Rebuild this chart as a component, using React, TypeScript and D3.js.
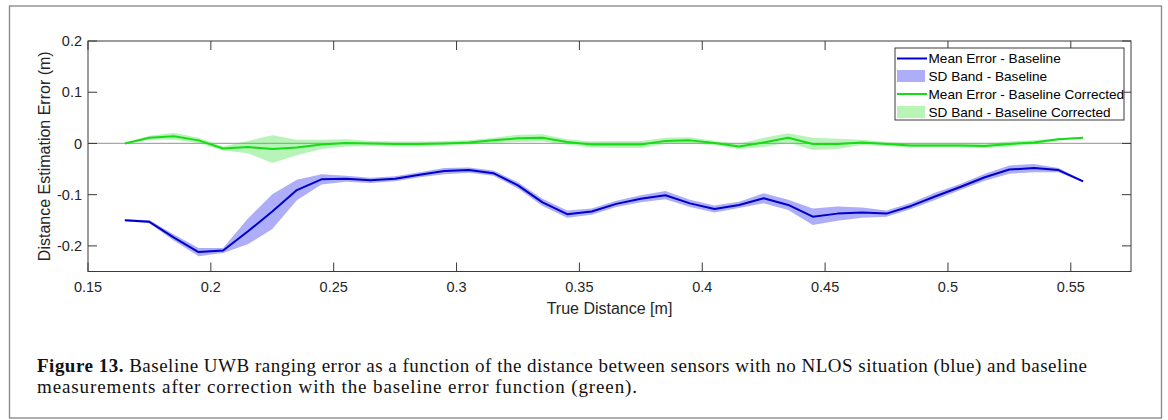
import React from "react";
import * as d3 from "d3";

const distances = [
  0.165, 0.175, 0.185, 0.195, 0.205, 0.215, 0.225, 0.235, 0.245, 0.255,
  0.265, 0.275, 0.285, 0.295, 0.305, 0.315, 0.325, 0.335, 0.345, 0.355,
  0.365, 0.375, 0.385, 0.395, 0.405, 0.415, 0.425, 0.435, 0.445, 0.455,
  0.465, 0.475, 0.485, 0.495, 0.505, 0.515, 0.525, 0.535, 0.545, 0.555,
];

const baselineMean = [
  -0.150, -0.153, -0.184, -0.212, -0.209, -0.172, -0.133, -0.091, -0.070, -0.069,
  -0.072, -0.069, -0.061, -0.054, -0.052, -0.058, -0.082, -0.115, -0.138, -0.133,
  -0.118, -0.108, -0.101, -0.117, -0.128, -0.120, -0.107, -0.120, -0.143, -0.137,
  -0.135, -0.137, -0.122, -0.103, -0.085, -0.066, -0.051, -0.048, -0.052, -0.074,
];

const baselineSD = [
  0.002, 0.003, 0.006, 0.008, 0.005, 0.025, 0.034, 0.020, 0.010, 0.006,
  0.005, 0.005, 0.005, 0.006, 0.005, 0.005, 0.006, 0.007, 0.007, 0.006,
  0.006, 0.007, 0.008, 0.007, 0.007, 0.006, 0.010, 0.010, 0.016, 0.014,
  0.010, 0.006, 0.006, 0.007, 0.006, 0.007, 0.008, 0.008, 0.004, 0.002,
];

const correctedMean = [
  0.000, 0.011, 0.014, 0.006, -0.010, -0.007, -0.011, -0.008, -0.002, 0.001,
  0.000, -0.001, -0.001, 0.000, 0.002, 0.006, 0.010, 0.011, 0.003, -0.002,
  -0.002, -0.002, 0.005, 0.006, 0.001, -0.006, 0.002, 0.011, -0.001, -0.001,
  0.002, -0.001, -0.004, -0.004, -0.004, -0.005, -0.001, 0.002, 0.008, 0.011,
];

const correctedSD = [
  0.001, 0.004, 0.007, 0.005, 0.004, 0.012, 0.027, 0.015, 0.009, 0.007,
  0.005, 0.005, 0.005, 0.005, 0.004, 0.005, 0.007, 0.007, 0.005, 0.006,
  0.007, 0.007, 0.006, 0.006, 0.004, 0.005, 0.009, 0.009, 0.012, 0.010,
  0.005, 0.004, 0.004, 0.004, 0.004, 0.004, 0.005, 0.004, 0.002, 0.001,
];

const xTickValues = [0.15, 0.2, 0.25, 0.3, 0.35, 0.4, 0.45, 0.5, 0.55];
const xTickLabels = ["0.15", "0.2", "0.25", "0.3", "0.35", "0.4", "0.45", "0.5", "0.55"];
const yTickValues = [-0.2, -0.1, 0, 0.1, 0.2];
const yTickLabels = ["-0.2", "-0.1", "0", "0.1", "0.2"];

const legendLabels = [
  "Mean Error - Baseline",
  "SD Band - Baseline",
  "Mean Error - Baseline Corrected",
  "SD Band - Baseline Corrected",
];

const xLabel = "True Distance [m]";
const yLabel = "Distance Estimation Error (m)";
const captionBold = "Figure 13.";
const captionLine1 =
  " Baseline UWB ranging error as a function of the distance between sensors with no NLOS situation (blue) and baseline";
const captionLine2 =
  "measurements after correction with the baseline error function (green).";

const BLUE = "#0000cc";
const BLUE_BAND = "#3333ee";
const GREEN = "#16dc16";
const GREEN_BAND = "#33dd33";
const AXIS = "#3a3a3a";
const SANS = "'Liberation Sans', Arial, Helvetica, sans-serif";
const SERIF = "'Liberation Serif', 'Times New Roman', serif";

export default function App() {
  const W = 1168;
  const H = 420;
  const left = 88;
  const right = 1131;
  const top = 41;
  const bottom = 271.5;

  const x = d3.scaleLinear().domain([0.15, 0.5745]).range([left, right]);
  const y = d3.scaleLinear().domain([-0.25, 0.2]).range([bottom, top]);

  const idx = distances.map((_, i) => i);
  const line = (vals: number[]) =>
    d3
      .line<number>()
      .x((i) => x(distances[i]))
      .y((i) => y(vals[i]))(idx) || "";
  const band = (m: number[], s: number[]) =>
    d3
      .area<number>()
      .x((i) => x(distances[i]))
      .y0((i) => y(m[i] - s[i]))
      .y1((i) => y(m[i] + s[i]))(idx) || "";

  const tickLen = 9;
  const legX = 895;
  const legY = 48;
  const legW = 229;
  const legH = 72;
  const rowY = [58.5, 76, 94, 112];

  return (
    <svg
      width={W}
      height={H}
      style={{ position: "absolute", left: 0, top: 0, background: "#fff" }}
    >
      <rect x={0} y={0} width={W} height={H} fill="#fff" />
      {/* outer frame */}
      <rect x={9.5} y={6} width={1152} height={412} fill="none" stroke="#8c8c8c" strokeWidth={1.4} />

      {/* zero reference line */}
      <line x1={left} x2={right} y1={y(0)} y2={y(0)} stroke="#a8a8a8" strokeWidth={1.2} />

      {/* bands */}
      <path d={band(correctedMean, correctedSD)} fill={GREEN_BAND} fillOpacity={0.35} stroke="none" />
      <path d={band(baselineMean, baselineSD)} fill={BLUE_BAND} fillOpacity={0.4} stroke="none" />

      {/* lines */}
      <path d={line(baselineMean)} fill="none" stroke={BLUE} strokeWidth={2} strokeLinejoin="round" />
      <path d={line(correctedMean)} fill="none" stroke={GREEN} strokeWidth={2} strokeLinejoin="round" />

      {/* axes box */}
      <rect x={left} y={top} width={right - left} height={bottom - top} fill="none" stroke={AXIS} strokeWidth={1} />

      {/* x ticks */}
      {xTickValues.map((v, i) => (
        <g key={"xt" + i}>
          <line x1={x(v)} x2={x(v)} y1={bottom} y2={bottom - tickLen} stroke={AXIS} />
          <line x1={x(v)} x2={x(v)} y1={top} y2={top + tickLen} stroke={AXIS} />
          <text
            x={x(v)}
            y={292}
            textAnchor="middle"
            fontFamily={SANS}
            fontSize={14.5}
            fill="#262626"
          >
            {xTickLabels[i]}
          </text>
        </g>
      ))}

      {/* y ticks */}
      {yTickValues.map((v, i) => (
        <g key={"yt" + i}>
          <line x1={left} x2={left + tickLen} y1={y(v)} y2={y(v)} stroke={AXIS} />
          <line x1={right} x2={right - tickLen} y1={y(v)} y2={y(v)} stroke={AXIS} />
          <text
            x={82}
            y={y(v)}
            dy="0.36em"
            textAnchor="end"
            fontFamily={SANS}
            fontSize={14.5}
            fill="#262626"
          >
            {yTickLabels[i]}
          </text>
        </g>
      ))}

      {/* axis labels */}
      <text x={(left + right) / 2} y={314} textAnchor="middle" fontFamily={SANS} fontSize={16} fill="#262626">
        {xLabel}
      </text>
      <text
        transform={`translate(50,${(top + bottom) / 2}) rotate(-90)`}
        textAnchor="middle"
        fontFamily={SANS}
        fontSize={16}
        fill="#262626"
      >
        {yLabel}
      </text>

      {/* legend */}
      <rect x={legX} y={legY} width={legW} height={legH} fill="#fff" stroke={AXIS} strokeWidth={1} />
      <line x1={897} x2={927} y1={rowY[0]} y2={rowY[0]} stroke={BLUE} strokeWidth={2} />
      <rect x={897} y={rowY[1] - 6} width={28} height={12} fill={BLUE_BAND} fillOpacity={0.4} />
      <line x1={897} x2={927} y1={rowY[2]} y2={rowY[2]} stroke={GREEN} strokeWidth={2} />
      <rect x={897} y={rowY[3] - 6} width={28} height={12} fill={GREEN_BAND} fillOpacity={0.35} />
      {legendLabels.map((t, i) => (
        <text key={"lg" + i} x={928.5} y={rowY[i]} dy="0.36em" fontFamily={SANS} fontSize={13.6} fill="#000">
          {t}
        </text>
      ))}

      {/* caption */}
      <text x={37} y={372} fontFamily={SERIF} fontSize={19} fill="#111" textLength={1050} lengthAdjust="spacing">
        <tspan fontWeight="bold">{captionBold}</tspan>
        <tspan>{captionLine1}</tspan>
      </text>
      <text x={37} y={393} fontFamily={SERIF} fontSize={19} fill="#111" textLength={600} lengthAdjust="spacing">
        {captionLine2}
      </text>
    </svg>
  );
}
